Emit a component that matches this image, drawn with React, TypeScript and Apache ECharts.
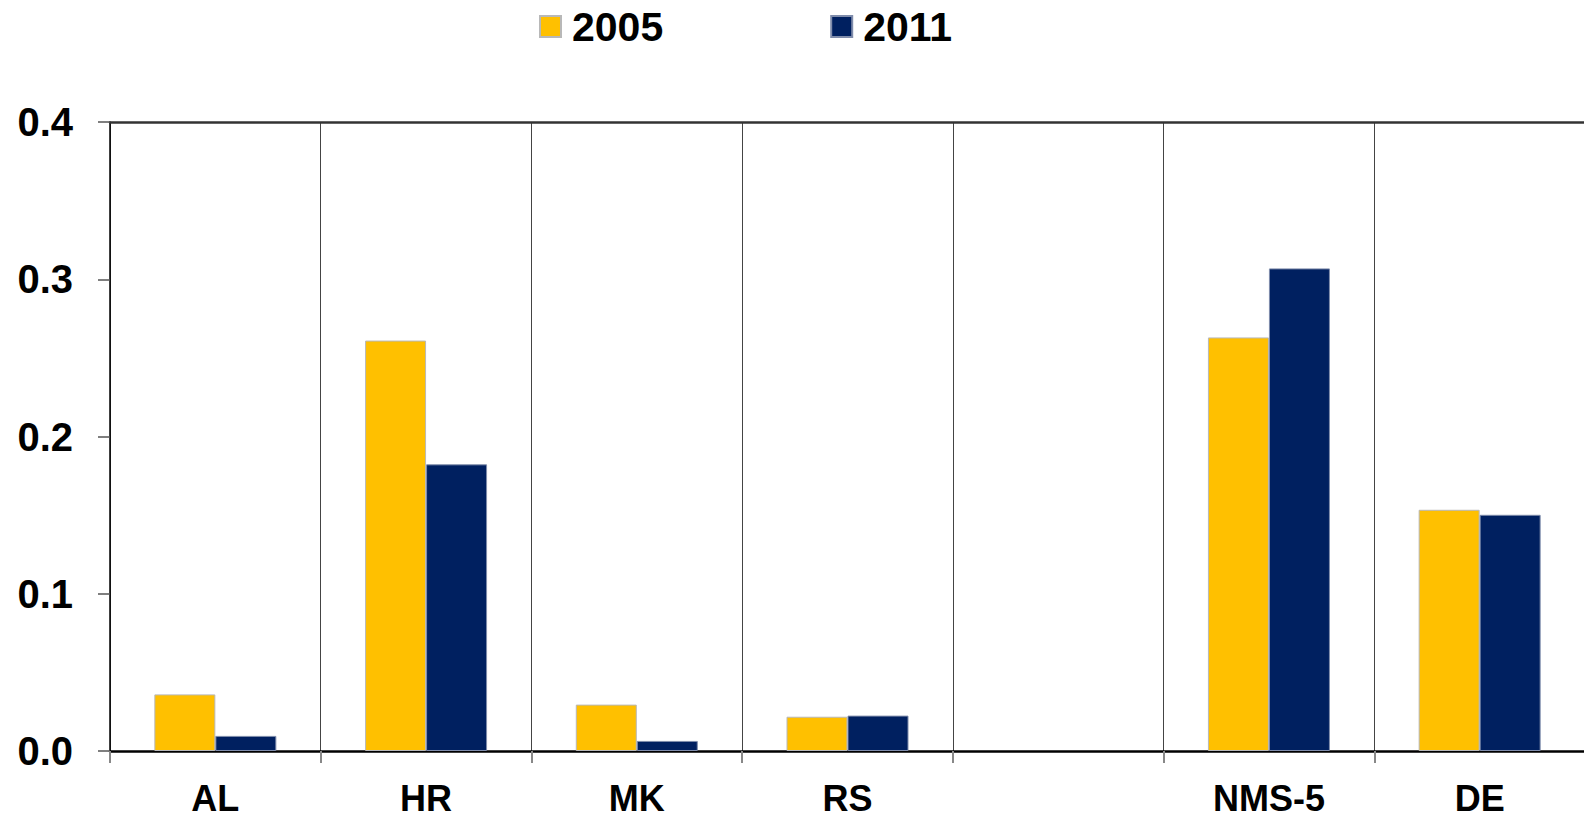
import React, { useEffect, useRef } from "react";
import * as echarts from "echarts";

const categories = ["AL", "HR", "MK", "RS", "", "NMS-5", "DE"];
const values2005 = [0.036, 0.261, 0.0295, 0.0218, null, 0.263, 0.1534];
const values2011 = [0.0096, 0.1823, 0.0064, 0.0225, null, 0.3069, 0.1502];
const seriesNames = ["2005", "2011"];
const yTicks = { min: 0, max: 0.4, interval: 0.1 };

const FONT = "'Liberation Sans', Arial, sans-serif";

export default function App() {
  const ref = useRef<HTMLDivElement>(null);
  useEffect(() => {
    if (!ref.current) return;
    const chart = echarts.init(ref.current, null, { renderer: "svg" });
    chart.setOption({
      animation: false,
      backgroundColor: "#ffffff",
      legend: {
        data: seriesNames,
        left: 539,
        top: 6,
        padding: 0,
        itemWidth: 21,
        itemHeight: 21,
        itemGap: 167,
        icon: "rect",
        textStyle: {
          fontFamily: FONT,
          fontWeight: "bold",
          fontSize: 41,
          color: "#000",
          lineHeight: 41,
          padding: [0, 0, 0, 6],
        },
      },
      grid: {
        left: 110,
        right: -1,
        top: 122,
        bottom: 68,
        containLabel: false,
        outerBoundsMode: "none",
      },
      xAxis: [
        {
          type: "category",
          data: categories,
          position: "bottom",
          boundaryGap: true,
          axisLine: { show: true, lineStyle: { color: "#000", width: 2.5 } },
          axisTick: { show: true, length: 12, inside: false, lineStyle: { color: "#888", width: 2 } },
          splitLine: { show: true, lineStyle: { color: "#444", width: 1 } },
          axisLabel: {
            margin: 30,
            fontFamily: FONT,
            fontWeight: "bold",
            fontSize: 36,
            lineHeight: 34,
            color: "#000",
            interval: 0,
          },
        },
        {
          type: "category",
          data: categories,
          position: "top",
          axisLine: { show: true, onZero: false, lineStyle: { color: "#333", width: 2.5 } },
          axisTick: { show: false },
          axisLabel: { show: false },
          splitLine: { show: false },
        },
      ],
      yAxis: {
        type: "value",
        min: yTicks.min,
        max: yTicks.max,
        interval: yTicks.interval,
        axisLine: { show: true, lineStyle: { color: "#000", width: 1.5 } },
        axisTick: { show: true, length: 12, lineStyle: { color: "#555", width: 1.5 } },
        splitLine: { show: false },
        axisLabel: {
          margin: 37,
          fontFamily: FONT,
          fontWeight: "bold",
          fontSize: 40,
          color: "#000",
          formatter: (v: number) => v.toFixed(1),
        },
      },
      series: [
        {
          name: seriesNames[0],
          type: "bar",
          data: values2005,
          barWidth: 61,
          barGap: "0%",
          itemStyle: { color: "#FFC000", borderColor: "#b8b8b8", borderWidth: 1 },
        },
        {
          name: seriesNames[1],
          type: "bar",
          data: values2011,
          barWidth: 61,
          barGap: "0%",
          itemStyle: { color: "#002060", borderColor: "#7f8cab", borderWidth: 1 },
        },
      ],
    });
    return () => chart.dispose();
  }, []);
  return (
    <div
      ref={ref}
      style={{ position: "fixed", left: 0, top: 0, width: 1584, height: 819, background: "#fff" }}
    />
  );
}
